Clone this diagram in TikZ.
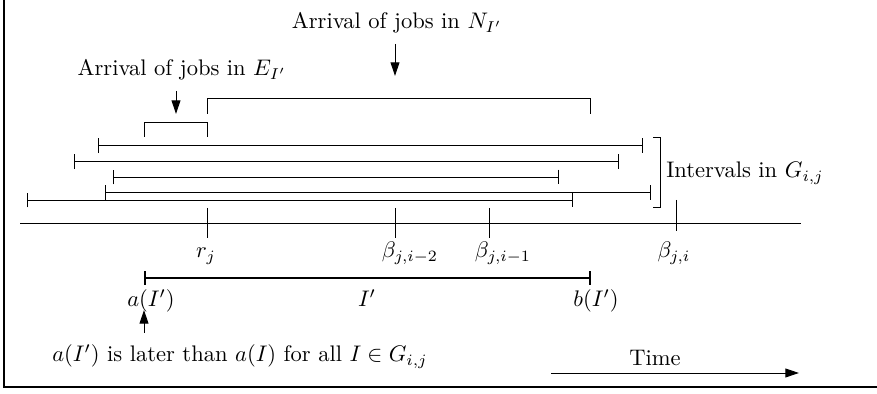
\documentclass[tikz,border=0pt]{standalone}
\usepackage{amsmath,amssymb}
\usetikzlibrary{arrows.meta}
\tikzset{
  frame/.style={line width=1pt},
  ivl/.style={{Bar[width=6.6pt]}-{Bar[width=6.6pt]}},
  mainivl/.style={line width=1.1pt,{Bar[width=6.2pt]}-{Bar[width=6.2pt]}},
  arr/.style={-{Triangle[length=6pt,width=3.9pt]}},
  lab/.style={anchor=base,inner sep=0pt},
}
\begin{document}
\begin{tikzpicture}[x=0.0156cm,y=-0.0156cm]
  \useasboundingbox (0,0) rectangle (877,394);
  \draw[frame] (4,-3) -- (4,387) -- (880,387);
  % time axis and its marks
  \coordinate (axL) at (20,223);
  \coordinate (axR) at (801,223);
  \draw (axL) -- (axR);
  \coordinate (rj) at (207,223);
  \coordinate (bm2) at (395,223);
  \coordinate (bm1) at (489,223);
  \coordinate (b0) at (676,215.5);
  \draw (rj) ++(0,-15) -- ++(0,30);
  \draw (bm2) ++(0,-15) -- ++(0,30);
  \draw (bm1) ++(0,-15) -- ++(0,30);
  \draw (b0) ++(0,-15.5) -- ++(0,31);
  \node[lab] (lrj) at (206,258) {$r_j$};
  \node[lab] (lbm2) at (410,258) {$\beta_{j,i-2}$};
  \node[lab] (lbm1) at (503,258) {$\beta_{j,i-1}$};
  \node[lab] (lb0) at (674,258) {$\beta_{j,i}$};
  % intervals in G
  \coordinate (g1a) at (98,145.7);  \coordinate (g1b) at (643,145.7);
  \coordinate (g2a) at (74,161.7);  \coordinate (g2b) at (619,161.7);
  \coordinate (g3a) at (113,177);   \coordinate (g3b) at (559,177);
  \coordinate (g4a) at (105,192.5); \coordinate (g4b) at (651,192.5);
  \coordinate (g5a) at (27,200);    \coordinate (g5b) at (573,200);
  \draw[ivl] (g1a) -- (g1b);
  \draw[ivl] (g2a) -- (g2b);
  \draw[ivl] (g3a) -- (g3b);
  \draw[ivl] (g4a) -- (g4b);
  \draw[ivl] (g5a) -- (g5b);
  \coordinate (brT) at (653,137);
  \coordinate (brB) at (653,207);
  \draw (brT) -- ++(7,0) |- (brB);
  \node[lab] (lG) at (745,178) {Intervals in $G_{i,j}$};
  % arrivals
  \coordinate (eL) at (144,137);
  \coordinate (eR) at (207,137);
  \draw (eL) -- ++(0,-15) -| (eR);
  \coordinate (nL) at (207,114);
  \coordinate (nR) at (590,114);
  \draw (nL) -- ++(0,-15.3) -| (nR);
  \node[lab] (lE) at (182,76) {Arrival of jobs in $E_{I'}$};
  \node[lab] (lN) at (397,29) {Arrival of jobs in $N_{I'}$};
  \coordinate (eA) at (176,91);  \coordinate (eT) at (176,114);
  \coordinate (nA) at (395,44);  \coordinate (nT) at (395,76);
  \draw[arr] (eA) -- (eT);
  \draw[arr] (nA) -- (nT);
  % the interval I'
  \coordinate (ia) at (144,278);
  \coordinate (ib) at (591,278);
  \draw[mainivl] (ia) -- (ib);
  \node[lab] (lia) at (151,307) {$a(I')$};
  \node[lab] (li) at (367,307) {$I'$};
  \node[lab] (lib) at (596,307) {$b(I')$};
  \coordinate (uA) at (144,333);
  \coordinate (uT) at (144,310);
  \draw[arr] (uA) -- (uT);
  \node[lab] (lnote) at (240,362) {$a(I')$ is later than $a(I)$ for all $I\in G_{i,j}$};
  % time
  \node[lab] (ltime) at (655,366) {Time};
  \coordinate (tA) at (551,373);
  \coordinate (tB) at (799,373);
  \draw[arr] (tA) -- (tB);
\end{tikzpicture}
\end{document}
